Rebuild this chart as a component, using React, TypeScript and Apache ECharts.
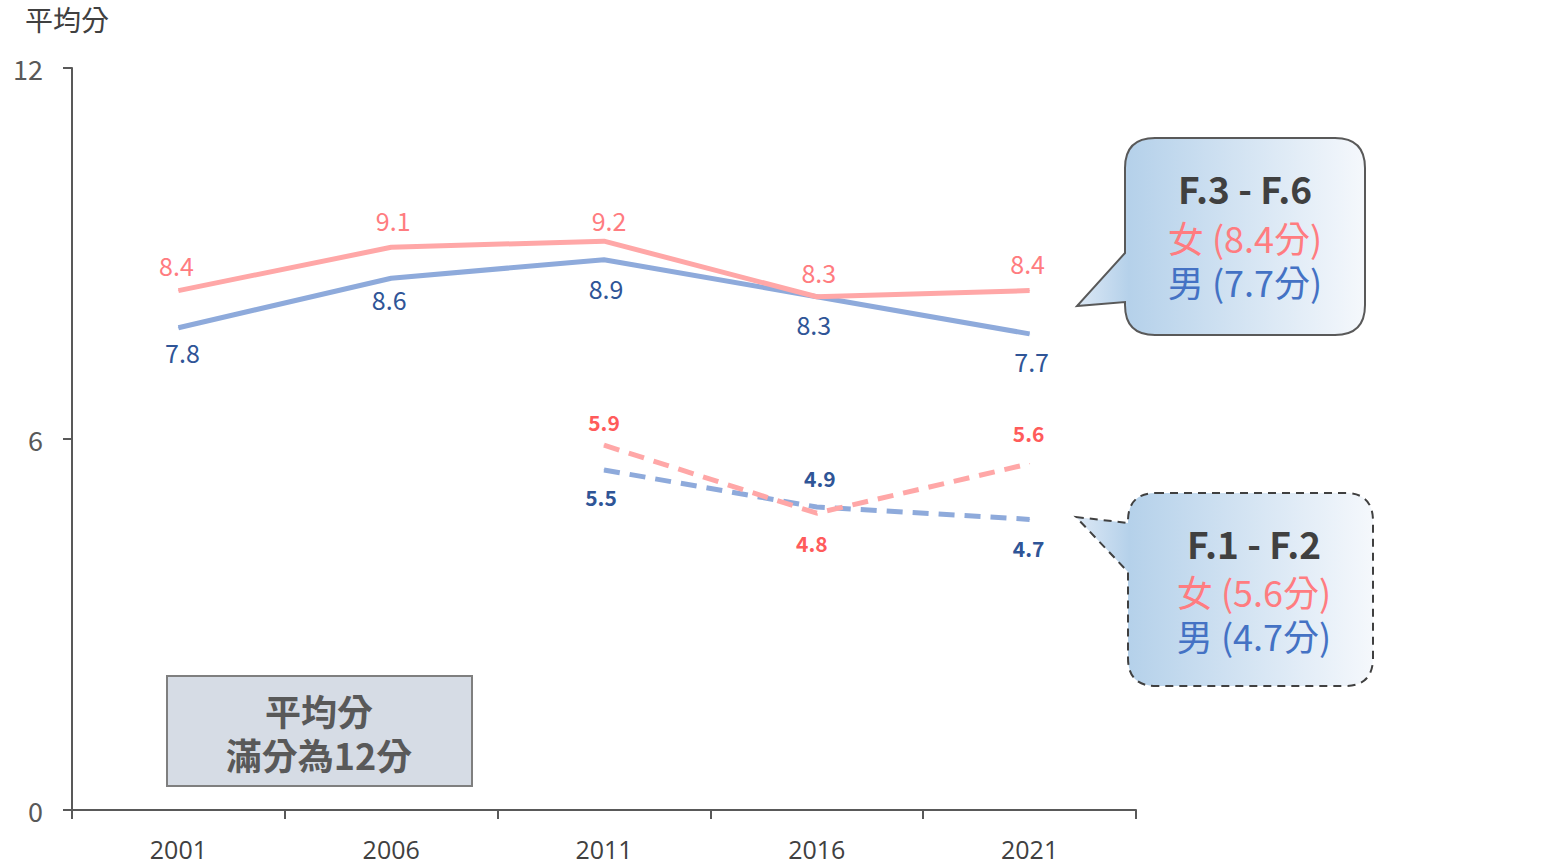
import React, { useEffect, useRef } from "react";
import * as echarts from "echarts";

const years = ["2001", "2006", "2011", "2016", "2021"];
const seniorFemale = [8.4, 9.1, 9.2, 8.3, 8.4];
const seniorMale = [7.8, 8.6, 8.9, 8.3, 7.7];
const juniorFemale = [null, null, 5.9, 4.8, 5.6];
const juniorMale = [null, null, 5.5, 4.9, 4.7];
const yTicks = [0, 6, 12];

// label offsets (dx, dy) from each point
const seniorFemaleOff = [[-2, -26], [2, -27], [5, -21], [2, -25], [-2, -28]];
const seniorMaleOff = [[4, 24], [-2, 21], [2, 28], [-3, 27], [2, 27]];
const juniorFemaleOff = [null, null, [0, -23], [-5, 30], [-1, -31]];
const juniorMaleOff = [null, null, [-3, 27], [3, -29], [-1, 29]];

const FONT = "'Noto Sans CJK TC', 'Noto Sans', sans-serif";
const NUMFONT = "'Open Sans', 'Noto Sans CJK TC', sans-serif";

echarts.graphic.registerShape(
  "calloutTop",
  echarts.graphic.extendPath(
    "M 1155 138 L 1335 138 Q 1365 138 1365 168 L 1365 305 Q 1365 335 1335 335 L 1155 335 Q 1125 335 1125 305 L 1125 302 L 1077 306 L 1125 253 L 1125 168 Q 1125 138 1155 138 Z",
    {}
  )
);
echarts.graphic.registerShape(
  "calloutBottom",
  echarts.graphic.extendPath(
    "M 1156 493 L 1345 493 Q 1373 493 1373 521 L 1373 658 Q 1373 686 1345 686 L 1156 686 Q 1128 686 1128 658 L 1128 572 L 1076 517 L 1128 523 L 1128 521 Q 1128 493 1156 493 Z",
    {}
  )
);

function mkData(vals: (number | null)[], offs: (number[] | null)[]) {
  return vals.map((v, i) =>
    v == null
      ? null
      : { value: v, label: { offset: offs[i] as number[] } }
  );
}

const grad = () => ({
  type: "linear",
  x: 0,
  y: 0,
  x2: 1,
  y2: 0,
  colorStops: [
    { offset: 0, color: "#dce8f5" },
    { offset: 0.18, color: "#b5d1ea" },
    { offset: 1, color: "#f5f8fc" },
  ],
});

const centerText = (x: number, y: number, text: string, size: number, fill: string, bold = false, font = FONT) => ({
  type: "text",
  x,
  y,
  style: {
    text,
    fontSize: size,
    lineHeight: size + 2,
    fontWeight: bold ? "bold" : "normal",
    fill,
    fontFamily: font,
    align: "center",
    verticalAlign: "middle",
  },
});

export default function App() {
  const ref = useRef<HTMLDivElement>(null);
  useEffect(() => {
    const chart = echarts.init(ref.current!, null, { renderer: "svg" });
    const solidLabel = (color: string) => ({
      show: true,
      position: "inside",
      fontSize: 25,
      fontFamily: FONT,
      color,
      formatter: (p: any) => p.value.toFixed(1),
    });
    const dashLabel = (color: string) => ({
      show: true,
      position: "inside",
      fontSize: 21,
      fontWeight: "bold",
      fontFamily: FONT,
      color,
      formatter: (p: any) => p.value.toFixed(1),
    });
    chart.setOption({
      animation: false,
      grid: { left: 72, right: 416, top: 68, bottom: 57 },
      xAxis: {
        type: "category",
        data: years,
        boundaryGap: true,
        axisLine: { lineStyle: { color: "#595959", width: 2 } },
        axisTick: { show: true, length: 9, lineStyle: { color: "#595959", width: 2 } },
        axisLabel: { fontSize: 25, lineHeight: 26, color: "#404040", margin: 26, fontFamily: NUMFONT },
      },
      yAxis: {
        type: "value",
        min: 0,
        max: 12,
        interval: 6,
        splitLine: { show: false },
        axisLine: { show: true, lineStyle: { color: "#595959", width: 2 } },
        axisTick: { show: true, length: 9, lineStyle: { color: "#595959", width: 2 } },
        axisLabel: {
          fontSize: 27,
          color: "#595959",
          margin: 29,
          fontFamily: FONT,
          formatter: (v: number) => (yTicks.includes(v) ? String(v) : ""),
        },
      },
      series: [
        {
          type: "line",
          data: mkData(seniorFemale, seniorFemaleOff),
          symbol: "circle",
          symbolSize: 1,
          itemStyle: { color: "#ffa7a7" },
          lineStyle: { color: "#ffa7a7", width: 5 },
          label: solidLabel("#ff7c80"),
          z: 3,
        },
        {
          type: "line",
          data: mkData(seniorMale, seniorMaleOff),
          symbol: "circle",
          symbolSize: 1,
          itemStyle: { color: "#8eaadb" },
          lineStyle: { color: "#8eaadb", width: 5 },
          label: solidLabel("#2f5597"),
          z: 2,
        },
        {
          type: "line",
          data: mkData(juniorFemale, juniorFemaleOff),
          symbol: "circle",
          symbolSize: 1,
          itemStyle: { color: "#ffa7a7" },
          lineStyle: { color: "#ffa7a7", width: 5, type: [16, 10] },
          label: dashLabel("#ff5b5b"),
          z: 3,
        },
        {
          type: "line",
          data: mkData(juniorMale, juniorMaleOff),
          symbol: "circle",
          symbolSize: 1,
          itemStyle: { color: "#8eaadb" },
          lineStyle: { color: "#8eaadb", width: 5, type: [16, 10] },
          label: dashLabel("#2f5597"),
          z: 2,
        },
      ],
      graphic: [
        {
          type: "text",
          x: 25,
          y: 19,
          style: { text: "平均分", fontSize: 28, lineHeight: 30, fill: "#404040", fontFamily: FONT, verticalAlign: "middle" },
        },
        {
          type: "rect",
          shape: { x: 167, y: 676, width: 305, height: 110 },
          style: { fill: "#d6dce5", stroke: "#7f7f7f", lineWidth: 2 },
        },
        centerText(319, 710, "平均分", 36, "#595959", true),
        centerText(319, 754, "滿分為12分", 36, "#595959", true),
        {
          type: "calloutTop",
          style: { fill: grad(), stroke: "#595959", lineWidth: 2 },
        },
        centerText(1245, 188, "F.3 - F.6", 37, "#404040", true),
        centerText(1245, 237, "女 (8.4分)", 36, "#ff7c80"),
        centerText(1245, 281, "男 (7.7分)", 36, "#4472c4"),
        {
          type: "calloutBottom",
          style: { fill: grad(), stroke: "#404040", lineWidth: 2, lineDash: [8, 6] },
        },
        centerText(1254, 543, "F.1 - F.2", 37, "#404040", true),
        centerText(1254, 591, "女 (5.6分)", 36, "#ff7c80"),
        centerText(1254, 635, "男 (4.7分)", 36, "#4472c4"),
      ],
    });
    return () => chart.dispose();
  }, []);
  return (
    <div
      ref={ref}
      style={{ position: "fixed", left: 0, top: 0, width: 1552, height: 867, background: "#fff" }}
    />
  );
}
